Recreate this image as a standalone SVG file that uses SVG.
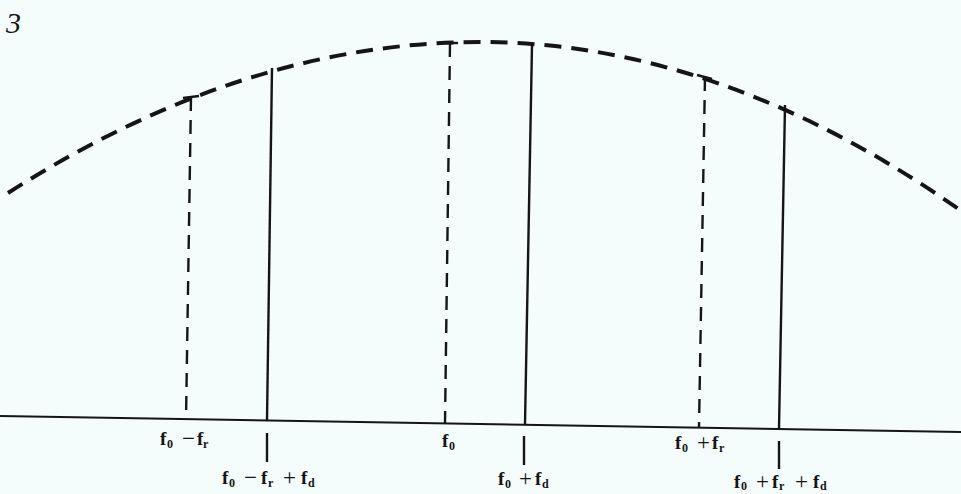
<svg xmlns="http://www.w3.org/2000/svg" width="961" height="494" viewBox="0 0 961 494">
<style>
.lbl{font-family:"Liberation Serif","Times New Roman",serif;font-weight:bold;font-size:19px;fill:#151515}
.sub{font-size:12px}
.op{font-weight:normal;font-size:23px}
.curve{fill:none;stroke:#151515;stroke-width:4;stroke-dasharray:17 10}
.dash{fill:none;stroke:#151515;stroke-width:2.4;stroke-dasharray:14 9}
.solid{fill:none;stroke:#151515;stroke-width:2.4}
.base{fill:none;stroke:#151515;stroke-width:2}
</style>
<rect width="961" height="494" fill="#f4fcfc"/>
<text x="6" y="33" style="font-family:'Liberation Serif','Times New Roman',serif;font-style:italic;font-size:30px;fill:#151515">3</text>
<g id="connectors">
<path id="envelope" class="curve" d="M8,193 Q244,42 480,42 Q720,42 960,210"/>
<line id="baseline" class="base" x1="0" y1="416" x2="961" y2="432"/>
</g>
<g id="line-f0-minus-fr">
<line class="dash" x1="191" y1="97" x2="186" y2="419"/>
<line class="solid" x1="183" y1="98" x2="199" y2="96"/>
<text class="lbl"><tspan x="160" y="445">f</tspan><tspan class="sub" x="167" y="448">0</tspan><tspan class="op" x="182" y="446">−</tspan><tspan x="197" y="445">f</tspan><tspan class="sub" x="203" y="448">r</tspan></text>
</g>
<g id="line-f0-minus-fr-plus-fd">
<line class="solid" x1="272" y1="68" x2="267" y2="420"/>
<line class="solid" x1="267" y1="433" x2="267" y2="462"/>
<text class="lbl"><tspan x="222" y="484">f</tspan><tspan class="sub" x="229" y="487">0</tspan><tspan class="op" x="244" y="485">−</tspan><tspan x="261" y="484">f</tspan><tspan class="sub" x="268" y="487">r</tspan><tspan class="op" x="283" y="485">+</tspan><tspan x="301" y="484">f</tspan><tspan class="sub" x="308" y="487">d</tspan></text>
</g>
<g id="line-f0">
<line class="dash" x1="450" y1="43" x2="445" y2="423"/>
<line class="solid" x1="442" y1="43" x2="458" y2="43"/>
<text class="lbl"><tspan x="442" y="447">f</tspan><tspan class="sub" x="449" y="450">0</tspan></text>
</g>
<g id="line-f0-plus-fd">
<line class="solid" x1="532" y1="45" x2="525" y2="424"/>
<line class="solid" x1="524" y1="436" x2="524" y2="465"/>
<text class="lbl"><tspan x="498" y="485">f</tspan><tspan class="sub" x="505" y="488">0</tspan><tspan class="op" x="519" y="486">+</tspan><tspan x="535" y="485">f</tspan><tspan class="sub" x="542" y="488">d</tspan></text>
</g>
<g id="line-f0-plus-fr">
<line class="dash" x1="705" y1="77" x2="699" y2="427"/>
<line class="solid" x1="697" y1="75" x2="712" y2="79"/>
<text class="lbl"><tspan x="675" y="449">f</tspan><tspan class="sub" x="682" y="452">0</tspan><tspan class="op" x="697" y="450">+</tspan><tspan x="712" y="449">f</tspan><tspan class="sub" x="719" y="452">r</tspan></text>
</g>
<g id="line-f0-plus-fr-plus-fd">
<line class="solid" x1="785" y1="105" x2="779" y2="429"/>
<line class="solid" x1="779" y1="441" x2="779" y2="469"/>
<text class="lbl"><tspan x="734" y="488">f</tspan><tspan class="sub" x="741" y="490">0</tspan><tspan class="op" x="756" y="489">+</tspan><tspan x="772" y="488">f</tspan><tspan class="sub" x="779" y="490">r</tspan><tspan class="op" x="795" y="489">+</tspan><tspan x="813" y="488">f</tspan><tspan class="sub" x="820" y="490">d</tspan></text>
</g>
</svg>
